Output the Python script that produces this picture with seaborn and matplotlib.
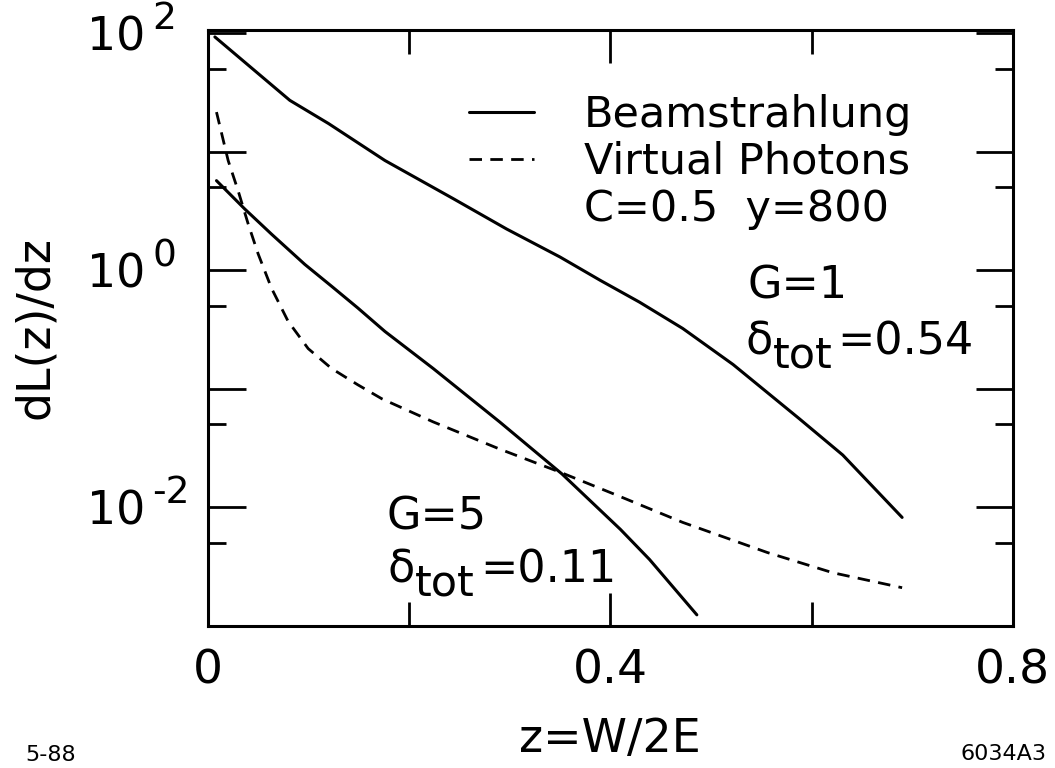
import numpy as np
import pandas as pd
import seaborn as sns
import matplotlib.pyplot as plt
from matplotlib.lines import Line2D
from matplotlib.ticker import FixedLocator, FixedFormatter, NullFormatter

sns.set_theme(style='ticks')
plt.rcParams['font.family'] = ['DejaVu Sans']
plt.rcParams['mathtext.fontset'] = 'dejavusans'
plt.rcParams['text.color'] = 'black'
plt.rcParams['axes.labelcolor'] = 'black'
plt.rcParams['xtick.color'] = 'black'
plt.rcParams['ytick.color'] = 'black'

# beamstrahlung spectrum, G=1
z_g1 = [0.007, 0.0815, 0.12, 0.176, 0.244, 0.297, 0.35, 0.39, 0.429, 0.472, 0.522, 0.588, 0.631, 0.69]
dl_g1 = [92.5, 27.0, 17.2, 8.4, 4.0, 2.22, 1.29, 0.82, 0.537, 0.322, 0.160, 0.0557, 0.0276, 0.00822]

# beamstrahlung spectrum, G=5
z_g5 = [0.0086, 0.0368, 0.0633, 0.0964, 0.123, 0.149, 0.176, 0.224, 0.29, 0.352, 0.41, 0.439, 0.486]
dl_g5 = [5.68, 3.27, 2.01, 1.117, 0.731, 0.480, 0.304, 0.148, 0.0525, 0.0191, 0.00652, 0.00363, 0.00124]

# virtual photons
z_vp = [0.0086, 0.0202, 0.0301, 0.0401, 0.05, 0.0633, 0.0798, 0.0997, 0.123, 0.149, 0.173,
        0.224, 0.29, 0.35, 0.407, 0.472, 0.556, 0.621, 0.69]
dl_vp = [21.5, 8.39, 4.67, 2.45, 1.37, 0.703, 0.370, 0.218, 0.148, 0.108, 0.0822,
         0.0525, 0.0310, 0.0198, 0.0126, 0.00746, 0.00416, 0.00281, 0.00210]

y_major = [1e-3, 1e-2, 1e-1, 1e0, 1e1, 1e2]
y_major_labels = ['', '10', '', '10', '', '10']
y_label_vals = [1e-2, 1e0, 1e2]
y_label_exps = ['-2', '0', '2']
y_minor = [5e-3, 5e-2, 5e-1, 5e0, 5e1]
x_major = [0, 0.4, 0.8]
x_major_labels = ['0', '0.4', '0.8']
x_minor = [0.2, 0.6]

lw = 2.2
dash = (4.5, 3)
fig = plt.figure(figsize=(10.55, 7.68), dpi=100)
ax = fig.add_axes([0.197, 0.185, 0.763, 0.776])

sns.lineplot(x=z_g1, y=dl_g1, ax=ax, color='black', lw=lw, estimator=None)
sns.lineplot(x=z_g5, y=dl_g5, ax=ax, color='black', lw=lw, estimator=None)
sns.lineplot(x=z_vp, y=dl_vp, ax=ax, color='black', lw=2, estimator=None)
ax.lines[-1].set_dashes(dash)

ax.set_yscale('log')
ax.set_xlim(0, 0.8)
ax.set_ylim(1e-3, 10 ** 2.025)

ax.xaxis.set_major_locator(FixedLocator(x_major))
ax.xaxis.set_major_formatter(FixedFormatter(x_major_labels))
ax.xaxis.set_minor_locator(FixedLocator(x_minor))
ax.yaxis.set_major_locator(FixedLocator(y_major))
ax.yaxis.set_major_formatter(FixedFormatter(y_major_labels))
ax.yaxis.set_minor_locator(FixedLocator(y_minor))
ax.yaxis.set_minor_formatter(NullFormatter())

ax.tick_params(axis='x', which='major', direction='in', length=24, width=2, top=True, bottom=True,
               labelsize=34, pad=16)
ax.tick_params(axis='x', which='minor', direction='in', length=17, width=2, top=True, bottom=True)
ax.tick_params(axis='y', which='major', direction='in', length=27, width=2, left=True, right=True,
               labelsize=33, pad=87)
ax.tick_params(axis='y', which='minor', direction='in', length=13, width=2, left=True, right=True)
for lab in ax.get_yticklabels():
    lab.set_horizontalalignment('left')

# exponents of the decade labels
for v, e in zip(y_label_vals, y_label_exps):
    ax.annotate(e, xy=(0, v), xycoords=('axes fraction', 'data'), xytext=(-40, 10),
                textcoords='offset points', fontsize=27, ha='left', va='center')

for s in ax.spines.values():
    s.set_linewidth(2.2)
    s.set_color('black')

ax.set_xlabel('z=W/2E', fontsize=33)
ax.set_ylabel('dL(z)/dz', fontsize=33)
ax.xaxis.set_label_coords(0.5, -0.152)
ax.yaxis.set_label_coords(-0.186, 0.5)

handles = [Line2D([], [], color='black', lw=lw),
           Line2D([], [], color='black', lw=2, dashes=dash),
           Line2D([], [], lw=0)]
labels = ['Beamstrahlung', 'Virtual Photons', 'C=0.5  y=800']
ax.legend(handles, labels, loc='upper left', bbox_to_anchor=(0.325, 0.893), frameon=False,
          fontsize=31, handlelength=1.5, handletextpad=1.15, labelspacing=0.12,
          borderpad=0, borderaxespad=0)


def delta_label(x, y, value):
    d = ax.text(x, y, '\u03b4', fontsize=32, ha='left', va='baseline')
    t = ax.annotate('tot', xy=(1, 0), xycoords=d, xytext=(0, -9), textcoords='offset points',
                    fontsize=31, ha='left', va='bottom')
    ax.annotate('=' + value, xy=(1, 0), xycoords=t, xytext=(4, 9), textcoords='offset points',
                fontsize=32, ha='left', va='bottom')


ax.text(0.536, 0.58, 'G=1', fontsize=32, ha='left', va='baseline')
delta_label(0.534, 0.194, '0.54')
ax.text(0.178, 0.00652, 'G=5', fontsize=32, ha='left', va='baseline')
delta_label(0.179, 0.00231, '0.11')

fig.text(25 / 1055, 1 - 761 / 768, '5-88', fontsize=16, ha='left', va='baseline')
fig.text(1047 / 1055, 1 - 760 / 768, '6034A3', fontsize=16, ha='right', va='baseline')

fig.savefig('out.png', dpi=100, facecolor='white')
